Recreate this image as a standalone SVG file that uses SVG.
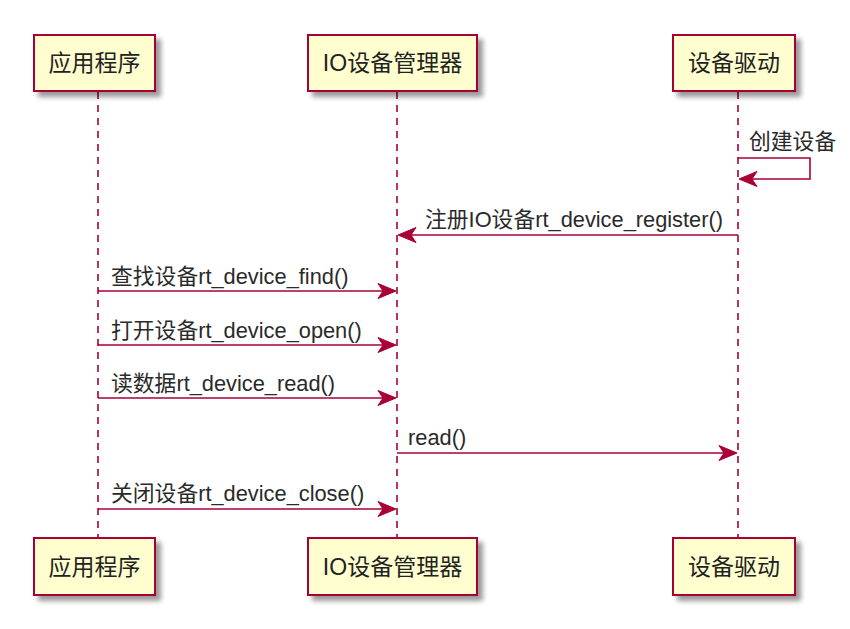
<svg xmlns="http://www.w3.org/2000/svg" width="850" height="629" viewBox="0 0 850 629">
<style>
.box{fill:#FEFECE;stroke:#A80036;stroke-width:2;}
.bt{font-family:"Liberation Sans","Noto Sans CJK SC",sans-serif;font-size:23px;fill:#222;text-anchor:middle;}
.life{stroke:#A80036;stroke-width:1.6;stroke-dasharray:7,6;fill:none;}
.msg{stroke:#A80036;stroke-width:1.6;fill:none;}
.head{fill:#A80036;stroke:#A80036;stroke-width:1;}
.lbl{font-family:"Liberation Sans","Noto Sans CJK SC",sans-serif;font-size:21.8px;fill:#2a2a2a;}
</style>
<defs>
<filter id="sh" x="-20%" y="-20%" width="150%" height="160%">
<feGaussianBlur in="SourceAlpha" stdDeviation="2.5"/>
<feOffset dx="5" dy="5" result="b"/>
<feComponentTransfer><feFuncA type="linear" slope="0.4"/></feComponentTransfer>
<feMerge><feMergeNode/><feMergeNode in="SourceGraphic"/></feMerge>
</filter>
</defs>
<rect width="850" height="629" fill="#fff"/>
<g id="lifelines">
<line class="life" x1="98" y1="92" x2="98" y2="538"/>
<line class="life" x1="397" y1="92" x2="397" y2="538"/>
<line class="life" x1="738" y1="92" x2="738" y2="538"/>
</g>
<g id="app-top"><rect class="box" filter="url(#sh)" x="34" y="35" width="121" height="56"/><text class="bt" x="94.5" y="71">应用程序</text></g>
<g id="io-top"><rect class="box" filter="url(#sh)" x="308" y="35" width="169" height="56"/><text class="bt" x="392.5" y="71">IO设备管理器</text></g>
<g id="drv-top"><rect class="box" filter="url(#sh)" x="673" y="35" width="122" height="56"/><text class="bt" x="734" y="71">设备驱动</text></g>
<g id="app-bottom"><rect class="box" filter="url(#sh)" x="34" y="538" width="121" height="57"/><text class="bt" x="94.5" y="575">应用程序</text></g>
<g id="io-bottom"><rect class="box" filter="url(#sh)" x="308" y="538" width="169" height="57"/><text class="bt" x="392.5" y="575">IO设备管理器</text></g>
<g id="drv-bottom"><rect class="box" filter="url(#sh)" x="673" y="538" width="122" height="57"/><text class="bt" x="734" y="575">设备驱动</text></g>
<g id="connectors">
<polyline class="msg" points="738,158 810,158 810,179 740,179"/>
<polygon class="head" points="739,179 757,171.5 752,179 757,186.5"/>
<text class="lbl" x="749" y="149">创建设备</text>
<line class="msg" x1="738" y1="235" x2="400" y2="235"/>
<polygon class="head" points="398,235 416,227.5 411,235 416,242.5"/>
<text class="lbl" x="425" y="227">注册IO设备rt_device_register()</text>
<line class="msg" x1="98" y1="291" x2="395" y2="291"/>
<polygon class="head" points="396,291 378,283.5 383,291 378,298.5"/>
<text class="lbl" x="111" y="284">查找设备rt_device_find()</text>
<line class="msg" x1="98" y1="345" x2="395" y2="345"/>
<polygon class="head" points="396,345 378,337.5 383,345 378,352.5"/>
<text class="lbl" x="111" y="338">打开设备rt_device_open()</text>
<line class="msg" x1="98" y1="398" x2="395" y2="398"/>
<polygon class="head" points="396,398 378,390.5 383,398 378,405.5"/>
<text class="lbl" x="111" y="391">读数据rt_device_read()</text>
<line class="msg" x1="397" y1="453" x2="736" y2="453"/>
<polygon class="head" points="737,453 719,445.5 724,453 719,460.5"/>
<text class="lbl" x="408" y="445">read()</text>
<line class="msg" x1="98" y1="509" x2="395" y2="509"/>
<polygon class="head" points="396,509 378,501.5 383,509 378,516.5"/>
<text class="lbl" x="111" y="501">关闭设备rt_device_close()</text>
</g>
</svg>
